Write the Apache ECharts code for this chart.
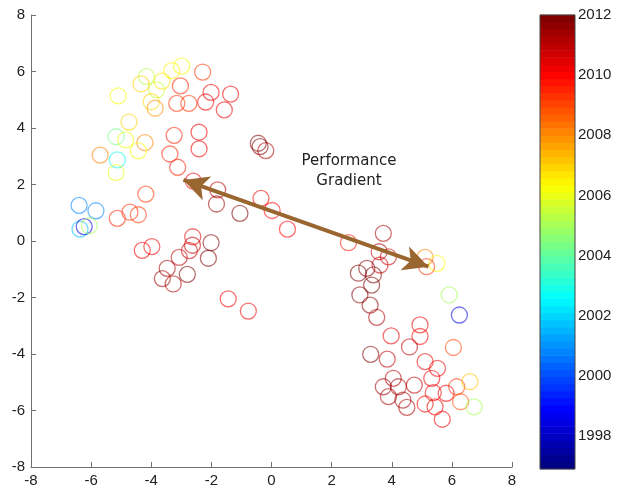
<!DOCTYPE html>
<html><head><meta charset="utf-8">
<script src="https://cdn.jsdelivr.net/npm/echarts@6/dist/echarts.min.js"></script>
<style>html,body{margin:0;padding:0;background:#fff}#c{width:617px;height:491px}</style>
</head><body><div id="c"></div>
<script>
const xVals=[-2.99,-3.32,-2.29,-4.16,-4.34,-3.64,-3.82,-3.03,-5.10,-2.01,-1.36,-4.00,-3.87,-3.15,-2.75,-2.19,-1.57,-4.74,-5.17,-4.85,-4.21,-4.43,-5.70,-5.13,-5.17,-3.24,-2.41,-2.41,-3.38,-3.12,-0.44,-0.38,-0.19,-2.60,-1.79,-1.83,-1.05,-0.35,0.02,0.53,-4.18,-6.40,-5.84,-6.37,-6.23,-6.06,-5.13,-4.71,-4.43,-4.30,-3.98,-2.62,-2.63,-2.73,-3.07,-2.01,-2.10,-3.47,-3.63,-3.27,-2.80,-1.44,-0.77,2.56,3.72,3.58,3.89,3.61,3.17,3.39,2.89,3.33,2.94,3.28,3.50,5.11,5.50,5.16,5.91,6.25,4.94,4.94,3.98,4.59,6.05,3.30,3.85,5.11,5.52,5.33,4.05,3.72,4.22,4.75,3.89,4.37,4.50,5.38,5.81,6.16,6.60,6.29,6.74,5.11,5.44,5.68];
const yVals=[6.19,6.03,5.98,5.82,5.56,5.66,5.35,5.49,5.14,5.26,5.20,4.93,4.70,4.87,4.87,4.92,4.64,4.21,3.69,3.58,3.48,3.19,3.04,2.87,2.42,3.74,3.85,3.26,3.08,2.61,3.46,3.34,3.20,2.12,1.81,1.31,0.98,1.51,1.08,0.42,1.66,1.26,1.07,0.42,0.51,0.54,0.80,1.02,0.93,-0.33,-0.20,0.15,-0.15,-0.34,-0.58,-0.06,-0.61,-0.97,-1.33,-1.52,-1.18,-2.05,-2.48,-0.06,0.27,-0.38,-0.56,-0.85,-0.97,-1.20,-1.14,-1.56,-1.91,-2.27,-2.70,-0.58,-0.79,-0.91,-1.91,-2.62,-2.97,-3.38,-3.36,-3.75,-3.77,-4.01,-4.18,-4.27,-4.51,-4.86,-4.86,-5.16,-5.16,-5.10,-5.51,-5.63,-5.89,-5.37,-5.39,-5.16,-4.98,-5.69,-5.87,-5.77,-5.87,-6.31];
const years=[2006.3,2006.5,2009.3,2005.3,2007,2006.8,2005.6,2009.5,2006.2,2010.2,2010.2,2007,2007.8,2009.3,2009.3,2010.2,2010.3,2007,2004.3,2006,2008,2006.3,2008,2003,2006,2009.5,2010.3,2010.3,2009.5,2009.5,2011.8,2011.8,2011.2,2010.2,2011,2011.3,2011.8,2010.3,2010,2010,2009.3,2000.7,2000.9,2001.8,1998.5,2005,2009.5,2009.3,2009.3,2010.3,2010.3,2010.5,2011,2010.8,2011,2012,2012,2011.3,2011.3,2011.2,2011.8,2010.2,2010.2,2009.8,2011.2,2011.2,2010.8,2010.8,2011.8,2011.8,2011.9,2011.8,2011.8,2011.6,2011.2,2008,2006.3,2009.3,2005,1998.5,2010.3,2010.3,2010.5,2011,2009,2011.8,2011,2010.3,2010.3,2010.3,2011.2,2011.3,2011.3,2011,2011.2,2011.3,2011.2,2010.3,2010.2,2009.3,2007.2,2008.8,2005,2010.2,2010.2,2010.2];
const cbTicks=[1998,2000,2002,2004,2006,2008,2010,2012];
const arrowStart=[-2.93,2.16];
const arrowEnd=[5.22,-0.91];
const annotationText='Performance\nGradient';
const cMin=1996.9, cMax=2012, nBands=64;

function jet(t){const c=v=>Math.max(0,Math.min(1,v));
  return [c(Math.min(4*t-1.5,-4*t+4.5)),c(Math.min(4*t-0.5,-4*t+3.5)),c(Math.min(4*t+0.5,-4*t+2.5))];}
function bandColor(i,a){const [r,g,b]=jet(i/(nBands-1));
  return 'rgba('+Math.round(r*255)+','+Math.round(g*255)+','+Math.round(b*255)+','+a+')';}
function yearColor(y,a){let i=Math.floor((y-cMin)/(cMax-cMin)*nBands);i=Math.max(0,Math.min(nBands-1,i));return bandColor(i,a);}

const pts=xVals.map((x,i)=>({value:[x,yVals[i],years[i]],itemStyle:{borderColor:yearColor(years[i],0.7)}}));
const bands=Array.from({length:nBands},(_,i)=>[i]);
const step=(cMax-cMin)/nBands;
const lblFont={fontSize:15,color:'#222',fontFamily:'Liberation Sans, Arial, sans-serif'};
const axCol='#707070';

const chart=echarts.init(document.getElementById('c'),null,{renderer:'canvas'});
chart.setOption({
  animation:false,
  backgroundColor:'#fff',
  grid:[{left:31,top:15,width:481,height:452},{left:540,top:15,width:35,height:454}],
  xAxis:[
    {gridIndex:0,type:'value',min:-8,max:8,interval:2,
     axisLine:{show:true,onZero:false,lineStyle:{color:axCol,width:1}},
     axisTick:{show:true,inside:true,length:5,lineStyle:{color:axCol}},
     splitLine:{show:false},axisLabel:Object.assign({margin:6},lblFont)},
    {gridIndex:1,type:'value',min:0,max:1,show:false}
  ],
  yAxis:[
    {gridIndex:0,type:'value',min:-8,max:8,interval:2,
     axisLine:{show:true,onZero:false,lineStyle:{color:axCol,width:1}},
     axisTick:{show:true,inside:true,length:5,lineStyle:{color:axCol}},
     splitLine:{show:false},axisLabel:Object.assign({margin:6},lblFont)},
    {gridIndex:1,type:'value',min:cMin,max:cMax,position:'left',
     axisLine:{show:false},splitLine:{show:false},axisLabel:{show:false},
     axisTick:{show:true,inside:true,length:4,lineStyle:{color:'#222'},customValues:cbTicks}},
    {gridIndex:1,type:'value',min:cMin,max:cMax,position:'right',
     axisLine:{show:false},splitLine:{show:false},
     axisTick:{show:true,inside:true,length:4,lineStyle:{color:'#222'},customValues:cbTicks},
     axisLabel:Object.assign({margin:3,customValues:cbTicks,formatter:v=>String(Math.round(v))},lblFont)}
  ],
  series:[
    {type:'scatter',xAxisIndex:0,yAxisIndex:0,symbol:'circle',symbolSize:16,
     itemStyle:{color:'rgba(0,0,0,0)',borderWidth:1.3},
     emphasis:{disabled:true},data:pts,
     markLine:{silent:true,symbol:['arrow','arrow'],symbolSize:[19,25],
       lineStyle:{color:'#9a6630',width:4,type:'solid'},label:{show:false},
       emphasis:{disabled:true},
       data:[[{coord:arrowStart},{coord:arrowEnd}]]}},
    {type:'custom',xAxisIndex:1,yAxisIndex:1,data:bands,silent:true,z:1,
     renderItem:function(params,api){
       const i=api.value(0);const lo=cMin+i*step,hi=lo+step;
       const p1=api.coord([0,hi]),p2=api.coord([1,lo]);
       return {type:'rect',shape:{x:p1[0],y:p1[1]-0.3,width:p2[0]-p1[0],height:p2[1]-p1[1]+0.6},style:{fill:bandColor(i,1)}};
     }}
  ],
  graphic:[
    {type:'rect',x:540,y:15,shape:{width:35,height:454},style:{fill:'none',stroke:'#444',lineWidth:1},z:100},
    {type:'text',x:349,y:151,style:{text:annotationText,textAlign:'center',textVerticalAlign:'top',
      font:'15px "DejaVu Sans"',fill:'#222',lineHeight:20},z:100}
  ]
});
</script>
</body></html>
